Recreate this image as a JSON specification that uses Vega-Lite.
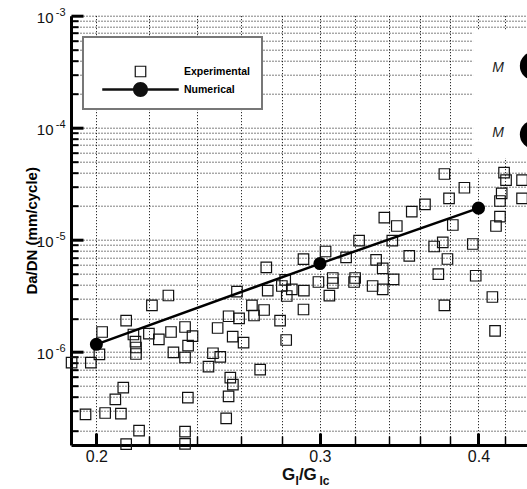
{
  "$schema": "https://vega.github.io/schema/vega-lite/v6.json",
  "width": 456,
  "height": 429.3,
  "autosize": {"type": "none"},
  "padding": {"left": 71, "top": 15.7, "right": 0, "bottom": 44},
  "background": "white",
  "config": {
    "view": {"stroke": null},
    "font": "Liberation Sans",
    "legend": {"strokeWidth": 2}
  },
  "datasets": {
    "exp": [
      {"x": 0.1912, "y": 8.03e-7}, {"x": 0.198, "y": 8.03e-7}, {"x": 0.2011, "y": 9.54e-7}, {"x": 0.2021, "y": 1.508e-6},
      {"x": 0.2111, "y": 1.902e-6}, {"x": 0.21, "y": 4.8e-7}, {"x": 0.207, "y": 3.785e-7}, {"x": 0.1961, "y": 2.78e-7},
      {"x": 0.2032, "y": 2.855e-7}, {"x": 0.2091, "y": 2.815e-7}, {"x": 0.2161, "y": 1.986e-7}, {"x": 0.2111, "y": 1.505e-7},
      {"x": 0.2139, "y": 1.432e-6}, {"x": 0.2147, "y": 1.235e-6}, {"x": 0.2149, "y": 1.097e-6}, {"x": 0.2149, "y": 9.6e-7},
      {"x": 0.22, "y": 1.457e-6}, {"x": 0.224, "y": 1.298e-6}, {"x": 0.2212, "y": 2.6e-6}, {"x": 0.229, "y": 1.508e-6},
      {"x": 0.23, "y": 9.94e-7}, {"x": 0.2279, "y": 3.19e-6}, {"x": 0.2349, "y": 1.671e-6}, {"x": 0.2381, "y": 1.384e-6},
      {"x": 0.2362, "y": 1.138e-6}, {"x": 0.2349, "y": 8.93e-7}, {"x": 0.2361, "y": 3.91e-7}, {"x": 0.2349, "y": 1.945e-7},
      {"x": 0.2349, "y": 1.517e-7}, {"x": 0.2471, "y": 9.74e-7}, {"x": 0.2504, "y": 9.03e-7}, {"x": 0.2451, "y": 7.39e-7},
      {"x": 0.2492, "y": 1.637e-6}, {"x": 0.2542, "y": 2.083e-6}, {"x": 0.2591, "y": 1.998e-6}, {"x": 0.2561, "y": 1.37e-6},
      {"x": 0.2612, "y": 1.211e-6}, {"x": 0.2652, "y": 2.6e-6}, {"x": 0.2711, "y": 2.37e-6}, {"x": 0.2662, "y": 2.117e-6},
      {"x": 0.2692, "y": 6.95e-7}, {"x": 0.255, "y": 5.9e-7}, {"x": 0.2562, "y": 5.11e-7}, {"x": 0.2542, "y": 4.025e-7},
      {"x": 0.2531, "y": 2.562e-7}, {"x": 0.2791, "y": 1.902e-6}, {"x": 0.2822, "y": 1.279e-6}, {"x": 0.2825, "y": 3.159e-6},
      {"x": 0.2581, "y": 3.45e-6}, {"x": 0.2722, "y": 5.69e-6}, {"x": 0.2729, "y": 3.52e-6}, {"x": 0.2817, "y": 4.39e-6},
      {"x": 0.28, "y": 3.88e-6}, {"x": 0.2851, "y": 3.625e-6}, {"x": 0.2914, "y": 3.52e-6}, {"x": 0.2912, "y": 6.73e-6},
      {"x": 0.3031, "y": 7.88e-6}, {"x": 0.2992, "y": 4.21e-6}, {"x": 0.3071, "y": 4.57e-6}, {"x": 0.3071, "y": 4.125e-6},
      {"x": 0.3052, "y": 3.18e-6}, {"x": 0.3146, "y": 6.97e-6}, {"x": 0.3198, "y": 4.57e-6}, {"x": 0.3192, "y": 4.21e-6},
      {"x": 0.2912, "y": 2.393e-6}, {"x": 0.3221, "y": 9.84e-6}, {"x": 0.3421, "y": 9.84e-6}, {"x": 0.3372, "y": 1.578e-5},
      {"x": 0.3449, "y": 1.33e-5}, {"x": 0.3544, "y": 1.785e-5}, {"x": 0.363, "y": 2.078e-5}, {"x": 0.376, "y": 3.87e-5},
      {"x": 0.3899, "y": 2.92e-5}, {"x": 0.3792, "y": 2.35e-5}, {"x": 0.3818, "y": 1.358e-5}, {"x": 0.3749, "y": 9.52e-6},
      {"x": 0.3691, "y": 8.73e-6}, {"x": 0.3959, "y": 9.19e-6}, {"x": 0.3322, "y": 6.62e-6}, {"x": 0.3528, "y": 7.19e-6},
      {"x": 0.3781, "y": 6.755e-6}, {"x": 0.3362, "y": 5.58e-6}, {"x": 0.3429, "y": 4.45e-6}, {"x": 0.3719, "y": 4.96e-6},
      {"x": 0.398, "y": 4.79e-6}, {"x": 0.3301, "y": 3.88e-6}, {"x": 0.3362, "y": 3.625e-6}, {"x": 0.4102, "y": 3.095e-6},
      {"x": 0.376, "y": 2.61e-6}, {"x": 0.4122, "y": 1.54e-6}, {"x": 0.419, "y": 3.98e-5}, {"x": 0.4205, "y": 3.42e-5},
      {"x": 0.4172, "y": 2.603e-5}, {"x": 0.4159, "y": 2.223e-5}, {"x": 0.4159, "y": 1.61e-5}, {"x": 0.4129, "y": 1.33e-5},
      {"x": 0.4329, "y": 2.35e-5}, {"x": 0.4329, "y": 3.42e-5}
    ],
    "num": [
      {"x": 0.2, "y": 1.17e-6}, {"x": 0.3, "y": 6.15e-6}, {"x": 0.4, "y": 1.92e-5}
    ],
    "sideM": [
      {"x": 0.4145, "y": 3.44e-4, "t": "M"}, {"x": 0.4145, "y": 8.99e-5, "t": "M"}
    ],
    "sideC": [
      {"x": 0.4424, "y": 3.56e-4}, {"x": 0.4424, "y": 8.71e-5}
    ]
  },
  "layer": [
    {
      "data": {"values": [{}]},
      "mark": {"type": "rect", "fill": "white"},
      "encoding": {
        "x": {"datum": 0.3961, "type": "quantitative", "scale": {"type": "log", "domain": [0.191, 0.4368], "nice": false, "zero": false}, "axis": null},
        "x2": {"datum": 0.4368},
        "y": {"datum": 7.3e-4, "type": "quantitative", "scale": {"type": "log", "domain": [1.48e-7, 0.001], "nice": false, "zero": false}, "axis": null},
        "y2": {"datum": 5.377e-5}
      }
    },
    {
      "data": {"name": "exp"},
      "mark": {"type": "point", "filled": true, "fill": "#111", "strokeWidth": 0, "size": 225, "opacity": 1},
      "encoding": {
        "x": {
          "field": "x", "type": "quantitative",
          "scale": {"type": "log", "domain": [0.191, 0.4368], "nice": false, "zero": false},
          "axis": {
            "orient": "bottom",
            "values": [0.2, 0.22, 0.24, 0.26, 0.28, 0.3, 0.32, 0.34, 0.36, 0.38, 0.4, 0.42],
            "grid": true, "gridDash": [1, 2], "gridColor": "#000", "gridWidth": 1,
            "ticks": false, "domain": true, "domainColor": "#000", "domainWidth": 3,
            "labelExpr": "abs(datum.value-0.2)<0.001 || abs(datum.value-0.3)<0.001 || abs(datum.value-0.4)<0.001 ? format(datum.value,'.1f') : ''",
            "labelFont": "Liberation Sans", "labelFontSize": 16, "labelColor": "#111",
            "labelPadding": 3, "labelOverlap": false, "labelFlush": false,
            "title": null
          }
        },
        "y": {
          "field": "y", "type": "quantitative",
          "scale": {"type": "log", "domain": [1.48e-7, 0.001], "nice": false, "zero": false},
          "axis": {
            "orient": "left",
            "values": [2e-7, 3e-7, 4e-7, 5e-7, 6e-7, 7e-7, 8e-7, 9e-7, 1e-6, 2e-6, 3e-6, 4e-6, 5e-6, 6e-6, 7e-6, 8e-6, 9e-6, 1e-5, 2e-5, 3e-5, 4e-5, 5e-5, 6e-5, 7e-5, 8e-5, 9e-5, 1e-4, 2e-4, 3e-4, 4e-4, 5e-4, 6e-4, 7e-4, 8e-4, 9e-4, 1e-3],
            "grid": true, "gridDash": [1, 2], "gridColor": "#000", "gridWidth": 1,
            "ticks": false, "domain": true, "domainColor": "#000", "domainWidth": 3,
            "labelExpr": "abs(log(datum.value)/LN10 - round(log(datum.value)/LN10)) < 0.001 ? '10' : ''",
            "labelFont": "Liberation Sans", "labelFontSize": 15, "labelColor": "#111",
            "labelPadding": 18, "labelOffset": 1.5, "labelOverlap": false, "labelFlush": false,
            "title": "Da/DN (mm/cycle)", "titleFont": "Liberation Sans", "titleFontSize": 15,
            "titleFontWeight": "bold", "titleColor": "#000", "titlePadding": -3
          }
        },
        "shape": {
          "datum": "Experimental",
          "scale": {
            "domain": ["Experimental", "Numerical"],
            "range": [
              "M-0.78,-0.78H0.78V0.78H-0.78ZM-0.62,-0.62V0.62H0.62V-0.62Z",
              "M-5.1,-0.167H5.1V0.167H-5.1ZM1,0A1,1 0 1,1 -1,0A1,1 0 1,1 1,0Z"
            ]
          },
          "legend": {
            "orient": "none", "legendX": 12, "legendY": 21.3,
            "title": " ", "titleFontSize": 1, "titlePadding": 14,
            "fillColor": "#fff", "strokeColor": "#777", "padding": 12,
            "symbolSize": 225, "symbolOffset": 38, "labelOffset": 36, "rowPadding": 4,
            "symbolFillColor": "#000", "symbolStrokeWidth": 0, "symbolOpacity": 1,
            "labelFont": "Liberation Sans", "labelFontSize": 10.5, "labelFontWeight": "bold", "labelColor": "#000"
          }
        }
      }
    },
    {
      "data": {"name": "num"},
      "mark": {"type": "line", "color": "#000", "strokeWidth": 2.5},
      "encoding": {
        "x": {
          "field": "x", "type": "quantitative",
          "scale": {"type": "log", "domain": [0.191, 0.4368], "nice": false, "zero": false},
          "axis": {"orient": "bottom", "values": [0.2, 0.3, 0.4], "grid": false, "domain": false, "labels": false, "ticks": true, "tickSize": -12, "tickWidth": 3, "tickColor": "#000", "title": null}
        },
        "y": {
          "field": "y", "type": "quantitative",
          "scale": {"type": "log", "domain": [1.48e-7, 0.001], "nice": false, "zero": false},
          "axis": {
            "orient": "left", "values": [1e-6, 1e-5, 1e-4, 1e-3], "grid": false, "domain": false,
            "ticks": true, "tickSize": -12, "tickWidth": 3, "tickColor": "#000", "title": null,
            "labels": true, "labelExpr": "'-' + abs(round(log(datum.value)/LN10))",
            "labelFont": "Liberation Sans", "labelFontSize": 11, "labelColor": "#111",
            "labelPadding": 18, "labelOffset": -3.5, "labelOverlap": false, "labelFlush": false
          }
        }
      }
    },
    {
      "data": {"name": "num"},
      "mark": {"type": "point", "shape": "circle", "filled": true, "color": "#000", "size": 170, "opacity": 1},
      "encoding": {
        "x": {
          "field": "x", "type": "quantitative",
          "scale": {"type": "log", "domain": [0.191, 0.4368], "nice": false, "zero": false},
          "axis": {"orient": "bottom", "values": [0.22, 0.24, 0.26, 0.28, 0.32, 0.34, 0.36, 0.38, 0.42], "grid": false, "domain": false, "labels": false, "ticks": true, "tickSize": -9, "tickWidth": 1.5, "tickColor": "#000", "title": null}
        },
        "y": {
          "field": "y", "type": "quantitative",
          "scale": {"type": "log", "domain": [1.48e-7, 0.001], "nice": false, "zero": false},
          "axis": {"orient": "left", "values": [2e-7, 3e-7, 4e-7, 5e-7, 6e-7, 7e-7, 8e-7, 9e-7, 2e-6, 3e-6, 4e-6, 5e-6, 6e-6, 7e-6, 8e-6, 9e-6, 2e-5, 3e-5, 4e-5, 5e-5, 6e-5, 7e-5, 8e-5, 9e-5, 2e-4, 3e-4, 4e-4, 5e-4, 6e-4, 7e-4, 8e-4, 9e-4], "grid": false, "domain": false, "labels": false, "ticks": true, "tickSize": -7, "tickWidth": 2, "tickColor": "#000", "title": null}
        }
      }
    },
    {
      "data": {"name": "sideM"},
      "mark": {"type": "text", "font": "Liberation Sans", "fontSize": 14, "fontStyle": "italic", "color": "#222", "align": "center", "baseline": "middle"},
      "encoding": {
        "x": {"field": "x", "type": "quantitative", "scale": {"type": "log", "domain": [0.191, 0.4368], "nice": false, "zero": false}, "axis": null},
        "y": {"field": "y", "type": "quantitative", "scale": {"type": "log", "domain": [1.48e-7, 0.001], "nice": false, "zero": false}, "axis": null},
        "text": {"field": "t"}
      }
    },
    {
      "data": {"name": "sideC"},
      "mark": {"type": "point", "shape": "circle", "filled": true, "color": "#000", "size": 804, "opacity": 1},
      "encoding": {
        "x": {"field": "x", "type": "quantitative", "scale": {"type": "log", "domain": [0.191, 0.4368], "nice": false, "zero": false}, "axis": null},
        "y": {"field": "y", "type": "quantitative", "scale": {"type": "log", "domain": [1.48e-7, 0.001], "nice": false, "zero": false}, "axis": null}
      }
    },
    {
      "data": {"values": [{}]},
      "mark": {"type": "text", "text": "G", "font": "Liberation Sans", "fontSize": 17, "fontWeight": "bold", "color": "#111", "align": "left", "baseline": "alphabetic", "dx": -38, "dy": 35},
      "encoding": {
        "x": {"datum": 0.3, "type": "quantitative", "axis": null},
        "y": {"datum": 1.48e-7, "type": "quantitative", "axis": null}
      }
    },
    {
      "data": {"values": [{}]},
      "mark": {"type": "text", "text": "I", "font": "Liberation Sans", "fontSize": 12, "fontWeight": "bold", "color": "#111", "align": "left", "baseline": "alphabetic", "dx": -24.5, "dy": 40},
      "encoding": {
        "x": {"datum": 0.3, "type": "quantitative", "axis": null},
        "y": {"datum": 1.48e-7, "type": "quantitative", "axis": null}
      }
    },
    {
      "data": {"values": [{}]},
      "mark": {"type": "text", "text": "/G", "font": "Liberation Sans", "fontSize": 17, "fontWeight": "bold", "color": "#111", "align": "left", "baseline": "alphabetic", "dx": -21, "dy": 35},
      "encoding": {
        "x": {"datum": 0.3, "type": "quantitative", "axis": null},
        "y": {"datum": 1.48e-7, "type": "quantitative", "axis": null}
      }
    },
    {
      "data": {"values": [{}]},
      "mark": {"type": "text", "text": "Ic", "font": "Liberation Sans", "fontSize": 12, "fontWeight": "bold", "color": "#111", "align": "left", "baseline": "alphabetic", "dx": -0.5, "dy": 40},
      "encoding": {
        "x": {"datum": 0.3, "type": "quantitative", "axis": null},
        "y": {"datum": 1.48e-7, "type": "quantitative", "axis": null}
      }
    }
  ],
  "resolve": {"axis": {"x": "independent", "y": "independent"}}
}
